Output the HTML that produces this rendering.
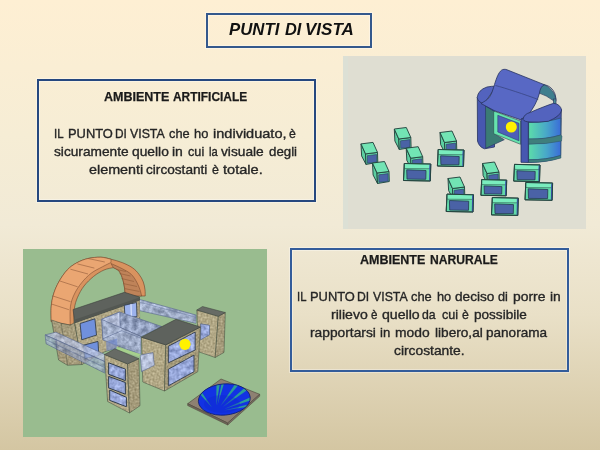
<!DOCTYPE html>
<html><head><meta charset="utf-8">
<style>
html,body{margin:0;padding:0;}
body{width:600px;height:450px;overflow:hidden;position:relative;
 background:linear-gradient(to bottom,#FEEFD3 0%,#F6EDD5 30%,#F1EAD6 50%,#E9E0C7 70%,#D4C6A2 100%);
 font-family:"Liberation Sans",sans-serif;}
.box{position:absolute;box-sizing:border-box;box-shadow:0 0 0 1px rgba(255,255,255,0.35),inset 0 0 0 1px rgba(255,255,255,0.35);}
.t{position:absolute;white-space:nowrap;transform-origin:0 0;}
.tt{font-size:17px;font-weight:bold;font-style:italic;color:#111;}
#title{left:206px;top:13px;width:166px;height:35px;border:2px solid #34588C;}
#b1{left:37px;top:79px;width:279px;height:123px;border:2px solid #26487F;}
#b2{left:290px;top:248px;width:279px;height:124px;border:2px solid #335C9A;}
.h{font-weight:bold;color:#1a1a1a;font-size:12.5px;-webkit-text-stroke:0.25px #1a1a1a;}
.p{color:#262626;font-size:13px;-webkit-text-stroke:0.35px #262626;}
#pic1{position:absolute;left:343px;top:56px;filter:blur(0.3px);}
#pic2{position:absolute;left:23px;top:249px;filter:blur(0.3px);}
</style></head><body>

<div class="box" id="title"></div>
<div class="box" id="b1"></div>
<div class="box" id="b2"></div>
<div class="t tt" style="left:229.40px;top:20px;transform:scaleX(0.9871)">PUNTI</div>
<div class="t tt" style="left:284.90px;top:20px;transform:scaleX(0.9630)">DI</div>
<div class="t tt" style="left:305.10px;top:20px;transform:scaleX(0.9995)">VISTA</div>
<div class="t h" style="left:104.40px;top:90px;transform:scaleX(1.0009)">AMBIENTE</div>
<div class="t h" style="left:173.30px;top:90px;transform:scaleX(0.9531)">ARTIFICIALE</div>
<div class="t p" style="left:54.12px;top:126px;transform:scaleX(0.8843)">IL</div>
<div class="t p" style="left:67.76px;top:126px;transform:scaleX(0.9909)">PUNTO</div>
<div class="t p" style="left:115.09px;top:126px;transform:scaleX(0.9132)">DI</div>
<div class="t p" style="left:130.10px;top:126px;transform:scaleX(0.9477)">VISTA</div>
<div class="t p" style="left:168.60px;top:126px;transform:scaleX(0.9841)">che</div>
<div class="t p" style="left:194.00px;top:126px;transform:scaleX(0.9909)">ho</div>
<div class="t p" style="left:212.75px;top:126px;transform:scaleX(1.1181)">individuato,</div>
<div class="t p" style="left:289.40px;top:126px;transform:scaleX(0.9429)">è</div>
<div class="t p" style="left:53.75px;top:144px;transform:scaleX(1.0534)">sicuramente</div>
<div class="t p" style="left:131.50px;top:144px;transform:scaleX(1.0619)">quello</div>
<div class="t p" style="left:171.90px;top:144px;transform:scaleX(1.0720)">in</div>
<div class="t p" style="left:188.10px;top:144px;transform:scaleX(0.9743)">cui</div>
<div class="t p" style="left:209.40px;top:144px;transform:scaleX(0.8587)">la</div>
<div class="t p" style="left:221.25px;top:144px;transform:scaleX(1.0563)">visuale</div>
<div class="t p" style="left:268.75px;top:144px;transform:scaleX(1.0207)">degli</div>
<div class="t p" style="left:88.75px;top:162px;transform:scaleX(1.1036)">elementi</div>
<div class="t p" style="left:146.25px;top:162px;transform:scaleX(1.0489)">circostanti</div>
<div class="t p" style="left:211.60px;top:162px;transform:scaleX(0.9571)">è</div>
<div class="t p" style="left:222.80px;top:162px;transform:scaleX(1.1235)">totale.</div>
<div class="t h" style="left:360.00px;top:253px;transform:scaleX(1.0009)">AMBIENTE</div>
<div class="t h" style="left:430.10px;top:253px;transform:scaleX(0.9685)">NARURALE</div>
<div class="t p" style="left:296.88px;top:289px;transform:scaleX(0.8687)">IL</div>
<div class="t p" style="left:309.51px;top:289px;transform:scaleX(0.9909)">PUNTO</div>
<div class="t p" style="left:357.16px;top:289px;transform:scaleX(0.9352)">DI</div>
<div class="t p" style="left:372.50px;top:289px;transform:scaleX(0.9477)">VISTA</div>
<div class="t p" style="left:411.20px;top:289px;transform:scaleX(0.9913)">che</div>
<div class="t p" style="left:436.50px;top:289px;transform:scaleX(0.9838)">ho</div>
<div class="t p" style="left:455.25px;top:289px;transform:scaleX(1.0482)">deciso</div>
<div class="t p" style="left:498.10px;top:289px;transform:scaleX(0.9775)">di</div>
<div class="t p" style="left:512.80px;top:289px;transform:scaleX(1.0691)">porre</div>
<div class="t p" style="left:549.50px;top:289px;transform:scaleX(1.0619)">in</div>
<div class="t p" style="left:330.75px;top:307px;transform:scaleX(1.0823)">rilievo</div>
<div class="t p" style="left:371.00px;top:307px;transform:scaleX(0.8929)">è</div>
<div class="t p" style="left:381.80px;top:307px;transform:scaleX(1.0866)">quello</div>
<div class="t p" style="left:422.40px;top:307px;transform:scaleX(0.9422)">da</div>
<div class="t p" style="left:441.75px;top:307px;transform:scaleX(0.9713)">cui</div>
<div class="t p" style="left:462.40px;top:307px;transform:scaleX(0.9429)">è</div>
<div class="t p" style="left:473.70px;top:307px;transform:scaleX(1.0436)">possibile</div>
<div class="t p" style="left:309.75px;top:325px;transform:scaleX(1.0595)">rapportarsi</div>
<div class="t p" style="left:380.10px;top:325px;transform:scaleX(1.0113)">in</div>
<div class="t p" style="left:394.50px;top:325px;transform:scaleX(1.0654)">modo</div>
<div class="t p" style="left:434.60px;top:325px;transform:scaleX(1.0496)">libero,al</div>
<div class="t p" style="left:486.25px;top:325px;transform:scaleX(1.0429)">panorama</div>
<div class="t p" style="left:393.70px;top:343px;transform:scaleX(1.0628)">circostante.</div>
<svg id="pic1" width="243" height="173" viewBox="343 56 243 173">
<rect x="343" y="56" width="243" height="173" fill="#DFDED2"/>
<rect x="343" y="56" width="5" height="173" fill="#DCE0D5"/>
<path d="M539.7,86.7 L544.3,84.7 Q552,88 555.2,96 L555.7,101 L554,101 Q546,95 539,93 Z" fill="#3E7E8E" stroke="#2A4060" stroke-width="0.7"/>
<path d="M477.3,97.5 L477.5,141 Q479,147 484.5,148.8 L494.5,147 L494.5,103 L482,103.5 Z" fill="#4757B0" stroke="#27335F" stroke-width="0.8"/>
<polygon points="485.5,106 494.3,111.5 494.3,133.7 504.3,139.7 485.7,148.3" fill="#3B7B74" stroke="#27335F" stroke-width="0.6"/>
<path d="M477.2,97.5 Q478,90 487,87 Q492,86 496,86.3 L484,104 Q478,102 477.2,97.5 Z" fill="#5363BE" stroke="#27335F" stroke-width="0.8"/>
<polygon points="493.7,111 520.5,121 520.5,144.3 493.7,133.7" fill="#66E3AE" stroke="#2B4F4C" stroke-width="0.6"/>
<polygon points="497.8,115.3 519,123.3 519,140.8 497.8,132" fill="#4E5FB8" stroke="#2B3F6C" stroke-width="0.6"/>
<circle cx="511.3" cy="127" r="5.5" fill="#FFF200"/>
<path d="M481,103.5 C484,101.5 487.5,100 489.5,97 C492,93.5 493,89 494.5,84.5 C496.5,78 498.5,72.5 501.5,70.2 C503,69.2 505,69 507,69.8 L544.3,84.7 C541.5,86 540,89 539.5,93 C537.5,101 533,109 528.3,114.5 L520.5,119.7 L494.6,110.8 Z" fill="#5868C4" stroke="#27335F" stroke-width="0.8"/>
<path d="M495.5,85.5 C505,88 525,94.5 538.2,99.5" stroke="#34407A" stroke-width="0.7" fill="none"/>
<path d="M544.3,84.7 Q552,86 555,94 Q556.5,99 555.7,101.5" stroke="#27335F" stroke-width="0.8" fill="none"/>
<rect x="553.4" y="99" width="2.6" height="5.5" fill="#4C8C94" stroke="#27335F" stroke-width="0.6"/>
<path d="M521,119 L521,162.3 L528.3,162.5 Q548,162 560.5,157.5 L561.3,110 Z" fill="#4757B0" stroke="#27335F" stroke-width="0.8"/>
<defs><linearGradient id="bandg" x1="0" x2="1" y1="0" y2="0"><stop offset="0" stop-color="#5CDCAA"/><stop offset="0.55" stop-color="#48A8C8"/><stop offset="1" stop-color="#3A6CD8"/></linearGradient></defs>
<path d="M528.6,122.5 Q546,122.5 560.8,118 L560.8,135 Q546,139.5 528.6,139 Z" fill="url(#bandg)" stroke="#2E5470" stroke-width="0.8"/>
<path d="M528.6,144 Q546,144 560.8,140 L560.8,155.5 Q546,160 528.6,159.8 Z" fill="url(#bandg)" stroke="#2E5470" stroke-width="0.8"/>
<path d="M528.6,139 Q546,139.5 560.8,135 L562,136 L561.5,141 Q546,144.5 528.6,144 Z" fill="#3F7F7C" stroke="#2E5470" stroke-width="0.5"/>
<path d="M528.6,159.8 Q546,160 560.8,155.5 L561,158 Q546,162.5 528.6,162.5 Z" fill="#3F7F7C" stroke="#2E5470" stroke-width="0.5"/>
<line x1="528.3" y1="119" x2="528.3" y2="162.5" stroke="#27335F" stroke-width="0.7"/>
<path d="M523,119.3 Q524,114 530,112.5 Q545,106 553.7,103.3 Q560,104 561.7,110 Q560.8,116 548.3,121.3 Q538,122.5 531,122 Q524,122 523,119.3 Z" fill="#5363BE" stroke="#27335F" stroke-width="0.8"/>
<polygon points="394.3,129.0 398.8,139.0 399.3,149.5 394.9,141.0" fill="#5CCFA1" stroke="#24443F" stroke-width="0.95"/>
<polygon points="398.8,139.0 410.8,137.5 411.1,147.5 399.3,149.5" fill="#62D9A9" stroke="#24443F" stroke-width="0.95"/>
<polygon points="400.5,140.8 409.9,139.6 410.0,147.2 400.7,148.3" fill="#4A62A6" stroke="#27405A" stroke-width="0.6"/>
<polygon points="394.3,129.0 406.3,127.5 410.8,137.5 398.8,139.0" fill="#72E4B4" stroke="#24443F" stroke-width="0.95"/>
<polygon points="440.0,132.5 444.5,142.5 445.0,153.0 440.6,144.5" fill="#5CCFA1" stroke="#24443F" stroke-width="0.95"/>
<polygon points="444.5,142.5 456.5,141.0 456.8,151.0 445.0,153.0" fill="#62D9A9" stroke="#24443F" stroke-width="0.95"/>
<polygon points="446.2,144.3 455.6,143.1 455.7,150.7 446.4,151.8" fill="#4A62A6" stroke="#27405A" stroke-width="0.6"/>
<polygon points="440.0,132.5 452.0,131.0 456.5,141.0 444.5,142.5" fill="#72E4B4" stroke="#24443F" stroke-width="0.95"/>
<polygon points="361.0,143.9 365.5,153.9 366.0,164.4 361.6,155.9" fill="#5CCFA1" stroke="#24443F" stroke-width="0.95"/>
<polygon points="365.5,153.9 377.5,152.4 377.8,162.4 366.0,164.4" fill="#62D9A9" stroke="#24443F" stroke-width="0.95"/>
<polygon points="367.2,155.7 376.6,154.5 376.7,162.1 367.4,163.2" fill="#4A62A6" stroke="#27405A" stroke-width="0.6"/>
<polygon points="361.0,143.9 373.0,142.4 377.5,152.4 365.5,153.9" fill="#72E4B4" stroke="#24443F" stroke-width="0.95"/>
<polygon points="406.2,148.2 410.7,158.2 411.2,168.7 406.8,160.2" fill="#5CCFA1" stroke="#24443F" stroke-width="0.95"/>
<polygon points="410.7,158.2 422.7,156.7 423.0,166.7 411.2,168.7" fill="#62D9A9" stroke="#24443F" stroke-width="0.95"/>
<polygon points="412.4,160.0 421.8,158.8 421.9,166.4 412.6,167.5" fill="#4A62A6" stroke="#27405A" stroke-width="0.6"/>
<polygon points="406.2,148.2 418.2,146.7 422.7,156.7 410.7,158.2" fill="#72E4B4" stroke="#24443F" stroke-width="0.95"/>
<polygon points="438.2,149.5 464.0,150.1 463.5,166.5 437.4,166.0" fill="#62D9A9" stroke="#24443F" stroke-width="0.95"/>
<polygon points="438.2,149.5 464.0,150.1 463.0,154.7 438.4,154.5" fill="#7AEDBE" stroke="#24443F" stroke-width="0.5"/>
<polygon points="462.6,150.5 464.0,150.1 463.5,166.5 462.3,166.3" fill="#3C52B4"/>
<polygon points="440.6,155.8 459.2,156.5 459.0,164.8 440.9,164.6" fill="#4A62A6" stroke="#24384F" stroke-width="0.8"/>
<polygon points="438.2,149.5 464.0,150.1 463.5,166.5 437.4,166.0" fill="none" stroke="#24443F" stroke-width="0.95"/>
<polygon points="372.5,163.0 377.0,173.0 377.5,183.5 373.1,175.0" fill="#5CCFA1" stroke="#24443F" stroke-width="0.95"/>
<polygon points="377.0,173.0 389.0,171.5 389.3,181.5 377.5,183.5" fill="#62D9A9" stroke="#24443F" stroke-width="0.95"/>
<polygon points="378.7,174.8 388.1,173.6 388.2,181.2 378.9,182.3" fill="#4A62A6" stroke="#27405A" stroke-width="0.6"/>
<polygon points="372.5,163.0 384.5,161.5 389.0,171.5 377.0,173.0" fill="#72E4B4" stroke="#24443F" stroke-width="0.95"/>
<polygon points="482.5,163.5 487.0,173.5 487.5,184.0 483.1,175.5" fill="#5CCFA1" stroke="#24443F" stroke-width="0.95"/>
<polygon points="487.0,173.5 499.0,172.0 499.3,182.0 487.5,184.0" fill="#62D9A9" stroke="#24443F" stroke-width="0.95"/>
<polygon points="488.7,175.3 498.1,174.1 498.2,181.7 488.9,182.8" fill="#4A62A6" stroke="#27405A" stroke-width="0.6"/>
<polygon points="482.5,163.5 494.5,162.0 499.0,172.0 487.0,173.5" fill="#72E4B4" stroke="#24443F" stroke-width="0.95"/>
<polygon points="404.3,163.5 430.8,164.1 430.3,181.0 403.5,180.5" fill="#62D9A9" stroke="#24443F" stroke-width="0.95"/>
<polygon points="404.3,163.5 430.8,164.1 429.8,168.7 404.5,168.5" fill="#7AEDBE" stroke="#24443F" stroke-width="0.5"/>
<polygon points="429.4,164.5 430.8,164.1 430.3,181.0 429.1,180.8" fill="#3C52B4"/>
<polygon points="406.7,169.8 426.0,170.5 425.8,179.3 407.0,179.1" fill="#4A62A6" stroke="#24384F" stroke-width="0.8"/>
<polygon points="404.3,163.5 430.8,164.1 430.3,181.0 403.5,180.5" fill="none" stroke="#24443F" stroke-width="0.95"/>
<polygon points="514.5,164.4 540.0,165.0 539.5,181.6 513.7,181.1" fill="#62D9A9" stroke="#24443F" stroke-width="0.95"/>
<polygon points="514.5,164.4 540.0,165.0 539.0,169.6 514.7,169.4" fill="#7AEDBE" stroke="#24443F" stroke-width="0.5"/>
<polygon points="538.6,165.4 540.0,165.0 539.5,181.6 538.3,181.4" fill="#3C52B4"/>
<polygon points="516.9,170.7 535.2,171.4 535.0,179.9 517.2,179.7" fill="#4A62A6" stroke="#24384F" stroke-width="0.8"/>
<polygon points="514.5,164.4 540.0,165.0 539.5,181.6 513.7,181.1" fill="none" stroke="#24443F" stroke-width="0.95"/>
<polygon points="448.0,178.5 452.5,188.5 453.0,199.0 448.6,190.5" fill="#5CCFA1" stroke="#24443F" stroke-width="0.95"/>
<polygon points="452.5,188.5 464.5,187.0 464.8,197.0 453.0,199.0" fill="#62D9A9" stroke="#24443F" stroke-width="0.95"/>
<polygon points="454.2,190.3 463.6,189.1 463.7,196.7 454.4,197.8" fill="#4A62A6" stroke="#27405A" stroke-width="0.6"/>
<polygon points="448.0,178.5 460.0,177.0 464.5,187.0 452.5,188.5" fill="#72E4B4" stroke="#24443F" stroke-width="0.95"/>
<polygon points="481.7,179.6 506.7,180.2 506.2,195.8 480.9,195.3" fill="#62D9A9" stroke="#24443F" stroke-width="0.95"/>
<polygon points="481.7,179.6 506.7,180.2 505.7,184.8 481.9,184.6" fill="#7AEDBE" stroke="#24443F" stroke-width="0.5"/>
<polygon points="505.3,180.6 506.7,180.2 506.2,195.8 505.0,195.6" fill="#3C52B4"/>
<polygon points="484.1,185.9 501.9,186.6 501.7,194.1 484.4,193.9" fill="#4A62A6" stroke="#24384F" stroke-width="0.8"/>
<polygon points="481.7,179.6 506.7,180.2 506.2,195.8 480.9,195.3" fill="none" stroke="#24443F" stroke-width="0.95"/>
<polygon points="525.8,182.5 552.6,183.1 552.1,200.3 525.0,199.8" fill="#62D9A9" stroke="#24443F" stroke-width="0.95"/>
<polygon points="525.8,182.5 552.6,183.1 551.6,187.7 526.0,187.5" fill="#7AEDBE" stroke="#24443F" stroke-width="0.5"/>
<polygon points="551.2,183.5 552.6,183.1 552.1,200.3 550.9,200.1" fill="#3C52B4"/>
<polygon points="528.2,188.8 547.8,189.5 547.6,198.6 528.5,198.4" fill="#4A62A6" stroke="#24384F" stroke-width="0.8"/>
<polygon points="525.8,182.5 552.6,183.1 552.1,200.3 525.0,199.8" fill="none" stroke="#24443F" stroke-width="0.95"/>
<polygon points="447.0,194.2 473.5,194.8 473.0,212.0 446.2,211.5" fill="#62D9A9" stroke="#24443F" stroke-width="0.95"/>
<polygon points="447.0,194.2 473.5,194.8 472.5,199.4 447.2,199.2" fill="#7AEDBE" stroke="#24443F" stroke-width="0.5"/>
<polygon points="472.1,195.2 473.5,194.8 473.0,212.0 471.8,211.8" fill="#3C52B4"/>
<polygon points="449.4,200.5 468.7,201.2 468.5,210.3 449.7,210.1" fill="#4A62A6" stroke="#24384F" stroke-width="0.8"/>
<polygon points="447.0,194.2 473.5,194.8 473.0,212.0 446.2,211.5" fill="none" stroke="#24443F" stroke-width="0.95"/>
<polygon points="492.3,197.6 518.3,198.2 517.8,215.4 491.5,214.9" fill="#62D9A9" stroke="#24443F" stroke-width="0.95"/>
<polygon points="492.3,197.6 518.3,198.2 517.3,202.8 492.5,202.6" fill="#7AEDBE" stroke="#24443F" stroke-width="0.5"/>
<polygon points="516.9,198.6 518.3,198.2 517.8,215.4 516.6,215.2" fill="#3C52B4"/>
<polygon points="494.7,203.9 513.5,204.6 513.3,213.7 495.0,213.5" fill="#4A62A6" stroke="#24384F" stroke-width="0.8"/>
<polygon points="492.3,197.6 518.3,198.2 517.8,215.4 491.5,214.9" fill="none" stroke="#24443F" stroke-width="0.95"/>
</svg>
<svg id="pic2" width="244" height="188" viewBox="23 249 244 188">
<defs>
<filter id="f_stA" x="0" y="0" width="1" height="1" color-interpolation-filters="sRGB"><feTurbulence type="fractalNoise" baseFrequency="0.5" numOctaves="2" seed="3"/><feColorMatrix type="matrix" values="0.3 0 0 0 0.548  0.3 0 0 0 0.509  0.3 0 0 0 0.375  0 0 0 0 1"/></filter>
<pattern id="stA" patternUnits="userSpaceOnUse" x="23" y="249" width="244" height="188"><rect x="0" y="0" width="244" height="188" filter="url(#f_stA)"/></pattern>
<filter id="f_stB" x="0" y="0" width="1" height="1" color-interpolation-filters="sRGB"><feTurbulence type="fractalNoise" baseFrequency="0.5" numOctaves="2" seed="5"/><feColorMatrix type="matrix" values="0.3 0 0 0 0.497  0.3 0 0 0 0.458  0.3 0 0 0 0.332  0 0 0 0 1"/></filter>
<pattern id="stB" patternUnits="userSpaceOnUse" x="23" y="249" width="244" height="188"><rect x="0" y="0" width="244" height="188" filter="url(#f_stB)"/></pattern>
<filter id="f_glA" x="0" y="0" width="1" height="1" color-interpolation-filters="sRGB"><feTurbulence type="fractalNoise" baseFrequency="0.2" numOctaves="3" seed="7"/><feColorMatrix type="matrix" values="0.5 0 0 0 0.377  0.5 0 0 0 0.428  0.5 0 0 0 0.534  0 0 0 0 1"/></filter>
<pattern id="glA" patternUnits="userSpaceOnUse" x="23" y="249" width="244" height="188"><rect x="0" y="0" width="244" height="188" filter="url(#f_glA)"/></pattern>
<filter id="f_glB" x="0" y="0" width="1" height="1" color-interpolation-filters="sRGB"><feTurbulence type="fractalNoise" baseFrequency="0.2" numOctaves="3" seed="9"/><feColorMatrix type="matrix" values="0.45 0 0 0 0.481  0.45 0 0 0 0.520  0.45 0 0 0 0.622  0 0 0 0 1"/></filter>
<pattern id="glB" patternUnits="userSpaceOnUse" x="23" y="249" width="244" height="188"><rect x="0" y="0" width="244" height="188" filter="url(#f_glB)"/></pattern>
<filter id="f_glC" x="0" y="0" width="1" height="1" color-interpolation-filters="sRGB"><feTurbulence type="fractalNoise" baseFrequency="0.2" numOctaves="3" seed="11"/><feColorMatrix type="matrix" values="0.5 0 0 0 0.326  0.5 0 0 0 0.381  0.5 0 0 0 0.503  0 0 0 0 1"/></filter>
<pattern id="glC" patternUnits="userSpaceOnUse" x="23" y="249" width="244" height="188"><rect x="0" y="0" width="244" height="188" filter="url(#f_glC)"/></pattern>
<filter id="f_wnB" x="0" y="0" width="1" height="1" color-interpolation-filters="sRGB"><feTurbulence type="fractalNoise" baseFrequency="0.25" numOctaves="3" seed="13"/><feColorMatrix type="matrix" values="0.45 0 0 0 0.371  0.45 0 0 0 0.434  0.45 0 0 0 0.630  0 0 0 0 1"/></filter>
<pattern id="wnB" patternUnits="userSpaceOnUse" x="23" y="249" width="244" height="188"><rect x="0" y="0" width="244" height="188" filter="url(#f_wnB)"/></pattern>
</defs>
<rect x="23" y="249" width="244" height="188" fill="#99BC8F"/>
<polygon points="139.0,299.3 196.0,315.0 196.0,323.3 139.0,310.5" fill="url(#glA)" stroke="#55658C" stroke-width="0.6"/>
<line x1="139" y1="302" x2="196" y2="317.3" stroke="#6A7AA0" stroke-width="0.5"/>
<path d="M51.2,321.5 C51.2,319.1 50.8,311.4 51.2,306.8 C51.6,302.2 52.3,298.3 53.6,294.0 C54.9,289.7 56.9,285.2 59.2,281.2 C61.5,277.2 64.3,273.1 67.2,270.0 C70.1,266.9 73.3,264.7 76.8,262.8 C80.3,260.9 84.0,259.4 88.0,258.5 C92.0,257.6 97.0,257.1 100.8,257.2 C104.6,257.3 107.4,258.3 111.0,259.2 C114.6,260.1 118.7,261.2 122.2,262.6 C125.7,264.0 129.4,265.7 132.2,267.6 C135.0,269.5 137.1,271.8 138.9,274.2 C140.8,276.6 142.3,279.4 143.3,282.0 C144.3,284.6 144.7,287.5 145.0,289.8 C145.3,292.1 145.2,295.0 145.2,296.0 L125.2,296.0 C125.2,295.3 125.2,294.0 125.0,292.0 C124.8,290.0 124.4,286.6 123.9,284.2 C123.4,281.8 123.0,279.8 122.2,277.6 C121.4,275.4 120.4,272.6 118.9,270.9 C117.4,269.2 114.2,268.2 113.3,267.6 L113.3,267.6 C111.8,268.0 107.3,268.5 104.0,270.0 C100.7,271.5 96.9,273.7 93.6,276.4 C90.3,279.1 86.7,282.5 84.0,286.0 C81.3,289.5 79.2,293.5 77.6,297.2 C76.0,300.9 75.0,303.8 74.4,308.4 C73.8,313.0 73.9,322.2 73.8,325.0 Z" fill="#D9935F" stroke="#6E4028" stroke-width="0.6"/>
<path d="M51.2,321.5 C51.2,319.1 50.8,311.4 51.2,306.8 C51.6,302.2 52.3,298.3 53.6,294.0 C54.9,289.7 56.9,285.2 59.2,281.2 C61.5,277.2 64.3,273.1 67.2,270.0 C70.1,266.9 73.3,264.7 76.8,262.8 C80.3,260.9 84.0,259.4 88.0,258.5 C92.0,257.6 97.0,257.1 100.8,257.2 C104.6,257.3 109.3,258.9 111.0,259.2 L111.0,262.5 C109.6,263.2 105.7,265.0 102.4,266.8 C99.1,268.6 94.7,270.5 91.2,273.2 C87.7,275.9 84.4,279.3 81.6,282.8 C78.8,286.3 76.3,290.0 74.4,294.0 C72.5,298.0 71.1,301.6 70.4,306.8 C69.7,312.0 70.2,322.0 70.2,325.0 Z" fill="#EAA672" stroke="#6E4028" stroke-width="0.5"/>
<path d="M111.0,263.5 C112.9,264.4 118.9,266.9 122.2,268.7 C125.5,270.5 128.7,272.0 131.1,274.2 C133.5,276.4 135.2,279.4 136.7,282.0 C138.2,284.6 139.2,287.5 140.0,289.8 C140.8,292.1 141.4,295.0 141.7,296.0 L125.2,296.0 C125.2,295.3 125.2,294.0 125.0,292.0 C124.8,290.0 124.4,286.6 123.9,284.2 C123.4,281.8 123.0,279.8 122.2,277.6 C121.4,275.4 120.4,272.6 118.9,270.9 C117.4,269.2 114.2,268.2 113.3,267.6 Z" fill="#BF8359" stroke="#6E4028" stroke-width="0.5"/>
<line x1="116.5" y1="269.5" x2="126" y2="271.5" stroke="#8E5A38" stroke-width="0.6"/>
<line x1="119.5" y1="273.5" x2="130.5" y2="276" stroke="#8E5A38" stroke-width="0.6"/>
<line x1="121.5" y1="278.5" x2="134" y2="281.5" stroke="#8E5A38" stroke-width="0.6"/>
<line x1="123" y1="283.5" x2="137" y2="286.5" stroke="#8E5A38" stroke-width="0.6"/>
<line x1="124.2" y1="288.5" x2="139.5" y2="291.5" stroke="#8E5A38" stroke-width="0.6"/>
<line x1="51.2" y1="303.9" x2="68.9" y2="309.7" stroke="#8A5535" stroke-width="0.55"/>
<line x1="52.6" y1="295.9" x2="70.6" y2="301.7" stroke="#8A5535" stroke-width="0.55"/>
<line x1="59.6" y1="280.9" x2="77.6" y2="286.8" stroke="#8A5535" stroke-width="0.55"/>
<line x1="70.4" y1="269.2" x2="88" y2="274" stroke="#8A5535" stroke-width="0.55"/>
<line x1="77.4" y1="263.9" x2="94.4" y2="268.1" stroke="#8A5535" stroke-width="0.55"/>
<line x1="88" y1="258.5" x2="104.8" y2="262" stroke="#8A5535" stroke-width="0.55"/>
<polygon points="51.5,320.0 61.2,323.3 70.1,325.1 74.7,322.7 82.0,364.5 67.5,365.3 58.6,360.0" fill="url(#stB)" stroke="#3B4438" stroke-width="0.5"/>
<line x1="61.2" y1="323.3" x2="67.5" y2="365.1" stroke="#3B4438" stroke-width="0.4"/>
<polygon points="74.7,322.7 139.3,300.1 140.0,340.0 104.0,352.0 82.0,364.5" fill="url(#stA)" stroke="#3B4438" stroke-width="0.5"/>
<polygon points="138.0,300.5 139.5,300.0 140.0,317.0 138.5,317.0" fill="url(#stB)"/>
<polygon points="73.1,309.5 124.5,292.3 139.5,297.0 139.5,300.1 74.7,322.7" fill="#5E625D" stroke="#3A3E3A" stroke-width="0.6"/>
<polygon points="74.4,319.8 139.5,297.6 139.5,300.1 74.7,322.7" fill="#535752"/>
<polygon points="80.1,323.5 94.9,318.8 96.5,335.1 81.7,339.8" fill="#7090DC" stroke="#34404E" stroke-width="0.9"/>
<polygon points="83.2,345.3 98.0,341.4 98.8,355.4 84.8,358.5" fill="#7090DC" stroke="#34404E" stroke-width="0.9"/>
<polygon points="124.3,305.3 136.5,302.5 137.0,316.7 125.0,317.5" fill="#9CB2EC" stroke="#34404E" stroke-width="0.9"/>
<line x1="131" y1="304" x2="131.3" y2="317" stroke="#E8EEFF" stroke-width="1.0"/>
<polygon points="101.7,319.3 119.7,312.0 161.7,326.5 141.0,336.7" fill="url(#glC)" stroke="#55658C" stroke-width="0.6"/>
<polygon points="101.7,319.3 119.7,312.0 120.3,331.0 103.0,340.0" fill="url(#glB)" stroke="#55658C" stroke-width="0.6"/>
<polygon points="101.7,319.3 141.0,336.7 141.0,354.7 103.0,340.0" fill="url(#glA)" stroke="#55658C" stroke-width="0.6"/>
<line x1="103" y1="338.7" x2="121.7" y2="330.7" stroke="#55658C" stroke-width="0.6"/>
<line x1="121.7" y1="330.7" x2="141" y2="338" stroke="#55658C" stroke-width="0.5"/>
<polygon points="106.0,342.0 117.0,338.5 117.5,349.0 106.5,351.0" fill="#7088D0" fill-opacity="0.6"/>
<polygon points="116.5,346.8 141.0,354.3 141.0,357.3 116.5,349.6" fill="#A6D08C"/>
<polygon points="45.2,334.9 55.9,332.2 106.0,355.0 104.8,361.6" fill="url(#glB)" stroke="#55658C" stroke-width="0.6" fill-opacity="0.85"/>
<polygon points="45.2,334.9 104.8,361.6 104.8,373.1 46.1,343.8" fill="url(#glC)" stroke="#55658C" stroke-width="0.6" fill-opacity="0.72"/>
<line x1="45.6" y1="339.5" x2="104.8" y2="367.5" stroke="#55658C" stroke-width="0.5"/>
<line x1="56" y1="337.5" x2="56.8" y2="350" stroke="#55658C" stroke-width="0.5"/>
<polygon points="196.8,310.0 218.3,316.3 215.2,357.5 198.7,351.8" fill="url(#stA)" stroke="#3B4438" stroke-width="0.5"/>
<polygon points="218.3,316.3 225.3,312.5 224.0,352.4 215.2,357.5" fill="url(#stB)" stroke="#3B4438" stroke-width="0.5"/>
<polygon points="196.8,310.0 202.5,306.5 225.3,312.5 218.3,316.3" fill="#676B65" stroke="#3A3E3A" stroke-width="0.5"/>
<polygon points="200.6,323.9 209.5,325.2 209.5,334.7 200.6,339.8" fill="url(#wnB)" stroke="#55658C" stroke-width="0.7"/>
<polygon points="141.5,337.2 165.8,344.9 164.5,391.0 142.8,382.0" fill="url(#stA)" stroke="#3B4438" stroke-width="0.5"/>
<polygon points="165.8,344.9 200.4,327.0 197.8,371.7 164.5,391.0" fill="url(#stB)" stroke="#3B4438" stroke-width="0.5"/>
<polygon points="141.5,337.2 176.0,319.3 200.4,327.0 165.8,344.9" fill="#5E625D" stroke="#3A3E3A" stroke-width="0.6"/>
<polygon points="168.4,346.2 195.2,332.1 195.2,350.0 168.4,362.8" fill="url(#wnB)" stroke="#34404E" stroke-width="0.9"/>
<polygon points="168.4,369.2 194.0,355.1 194.0,371.7 168.4,385.8" fill="url(#wnB)" stroke="#34404E" stroke-width="0.9"/>
<circle cx="185" cy="344.3" r="5.6" fill="#FFF200"/>
<polygon points="140.2,355.1 153.0,352.6 154.3,365.3 141.5,371.7" fill="url(#glB)" stroke="#55658C" stroke-width="0.6"/>
<polygon points="104.5,354.5 127.5,363.9 129.5,413.0 107.6,401.5" fill="url(#stA)" stroke="#3B4438" stroke-width="0.5"/>
<polygon points="127.5,363.9 138.9,358.7 140.0,405.7 129.5,413.0" fill="url(#stB)" stroke="#3B4438" stroke-width="0.5"/>
<polygon points="104.5,354.5 114.9,348.8 138.9,358.7 127.5,363.9" fill="#676B65" stroke="#3A3E3A" stroke-width="0.5"/>
<polygon points="108.6,362.8 125.4,369.1 125.4,380.6 108.6,374.3" fill="url(#wnB)" stroke="#34404E" stroke-width="1.0"/>
<polygon points="108.6,376.4 125.4,382.5 125.4,394.2 108.6,387.9" fill="url(#wnB)" stroke="#34404E" stroke-width="1.0"/>
<polygon points="109.7,390.0 126.4,397.3 126.4,406.7 109.7,400.4" fill="url(#wnB)" stroke="#34404E" stroke-width="1.0"/>
<polygon points="187.7,403.7 221.0,379.0 259.7,394.3 227.7,423.0" fill="#8E8172" stroke="#4A4238" stroke-width="0.6"/>
<polygon points="187.7,403.7 227.7,423.0 227.7,425.0 187.7,405.6" fill="#6E6458" stroke="#4A4238" stroke-width="0.5"/>
<polygon points="227.7,423.0 259.7,394.3 259.7,396.2 227.7,425.0" fill="#7A7064" stroke="#4A4238" stroke-width="0.5"/>
<clipPath id="dclip"><ellipse cx="224.3" cy="399.5" rx="26" ry="15.6" transform="rotate(-5 224.3 399.5)"/></clipPath>
<ellipse cx="224.3" cy="399.5" rx="26" ry="15.6" transform="rotate(-5 224.3 399.5)" fill="#1232E4"/>
<g clip-path="url(#dclip)">
<polygon points="212.0,407.6 198.0,386.8 195.2,389.0" fill="#2B9C9A"/>
<polygon points="216.3,405.5 220.9,377.0 216.5,376.6" fill="#2B9C9A"/>
<polygon points="217.4,405.4 226.1,376.5 223.0,375.8" fill="#2B9C9A"/>
<polygon points="220.4,406.1 241.7,381.3 238.5,378.9" fill="#2B9C9A"/>
<polygon points="222.8,406.9 253.8,385.7 251.1,382.2" fill="#2B9C9A"/>
<polygon points="224.3,409.0 261.0,396.9 259.6,393.1" fill="#2B9C9A"/>
<polygon points="224.0,410.6 259.3,405.0 258.7,401.9" fill="#2B9C9A"/>
<ellipse cx="222" cy="404" rx="18" ry="9" fill="#0E28C8" opacity="0.35"/>
</g>
<ellipse cx="224.3" cy="399.5" rx="26" ry="15.6" transform="rotate(-5 224.3 399.5)" fill="none" stroke="#0C1A70" stroke-width="0.8"/>
</svg>

</body></html>
